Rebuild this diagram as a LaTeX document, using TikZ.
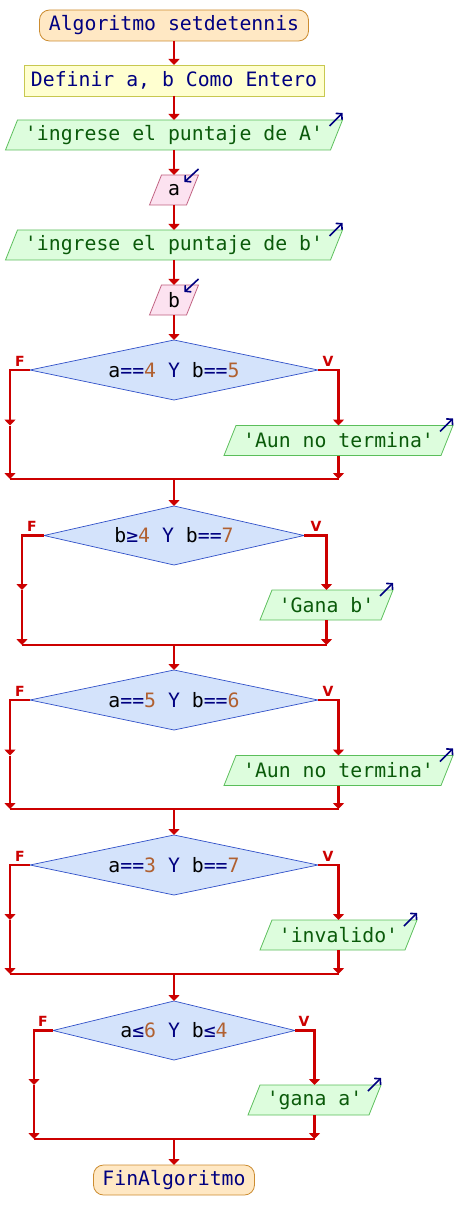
\documentclass[tikz,border=0pt]{standalone}
\usepackage{fontspec}
\newfontfamily\monof{DejaVu Sans Mono}
\newfontfamily\lblf{DejaVu Sans}
\usetikzlibrary{arrows.meta,shapes.geometric,backgrounds}
\definecolor{flowred}{RGB}{204,0,0}
\definecolor{navyc}{RGB}{0,0,128}
\definecolor{numc}{RGB}{176,96,48}
\definecolor{strc}{RGB}{10,90,10}
\definecolor{termfill}{RGB}{255,232,196}
\definecolor{termdraw}{RGB}{204,140,48}
\definecolor{deffill}{RGB}{255,255,208}
\definecolor{defdraw}{RGB}{200,200,80}
\definecolor{outfill}{RGB}{221,253,221}
\definecolor{outdraw}{RGB}{90,190,90}
\definecolor{infill}{RGB}{252,226,240}
\definecolor{indraw}{RGB}{192,96,128}
\definecolor{dfill}{RGB}{212,227,251}
\definecolor{ddraw}{RGB}{48,80,200}
\newcommand\sq{\textquotesingle}
\newcommand\nm[1]{\textcolor{numc}{#1}}
\newcommand\kw[1]{\textcolor{navyc}{#1}}
\newcommand\paral[3]{\filldraw[fill=#2,draw=#3,line width=0.8pt] ([xshift=-6pt]#1.south west) -- ([xshift=6pt]#1.north west) -- ([xshift=6pt]#1.north east) -- ([xshift=-6pt]#1.south east) -- cycle;}
\newcommand\outicon[1]{\draw[icon] ([shift={(-7,6)}]#1.north east) -- ([shift={(6,-7)}]#1.north east);}
\newcommand\inicon[1]{\draw[icon] ([shift={(6,-6)}]#1.north east) -- ([shift={(-8,7)}]#1.north east);}
\tikzset{
  base/.style={font=\monof\fontsize{19.8}{20}\selectfont, inner sep=0pt, outer sep=0pt},
  term/.style={base, draw=termdraw, fill=termfill, rounded corners=10pt, line width=0.8pt, text=navyc, minimum height=31pt},
  defbox/.style={base, draw=defdraw, fill=deffill, line width=0.8pt, text=navyc, minimum height=31pt},
  outbox/.style={base, text=strc, minimum height=30pt},
  inbox/.style={base, text=black, minimum height=30pt, minimum width=37pt},
  cond/.style={base, diamond, aspect=4.8, draw=ddraw, fill=dfill, line width=0.7pt, text=black},
  flow/.style={draw=flowred, line width=2.5pt},
  arr/.style={-{Triangle[width=11pt,length=6pt]}},
  icon/.style={draw=navyc, line width=1.6pt, -{Straight Barb[length=4pt,width=9pt]}},
  lab/.style={text=flowred, font=\lblf\bfseries\fontsize{14}{14}\selectfont, inner sep=0pt}
}
\begin{document}
\begin{tikzpicture}[x=1pt,y=-1pt]
\useasboundingbox (0,0) rectangle (456,1230);
% nodes
\node[term, minimum width=269pt] (start) at (174,25.5) {Algoritmo setdetennis};
\node[defbox, minimum width=300pt] (def) at (174,80.5) {Definir a, b Como Entero};
\node[outbox, minimum width=325pt] (o1) at (174,135) {\sq ingrese el puntaje de A\sq};
\node[inbox] (ia) at (174,190) {a};
\node[outbox, minimum width=325pt] (o2) at (174,245) {\sq ingrese el puntaje de b\sq};
\node[inbox] (ib) at (174,300) {b};
\node[cond, minimum width=288pt, minimum height=60pt] (d1) at (174,370) {a\kw{==}\nm{4} \kw{Y} b\kw{==}\nm{5}};
\node[outbox, minimum width=217pt] (o3) at (338.5,440.5) {\sq Aun no termina\sq};
\node[cond, minimum width=260pt, minimum height=59pt] (d2) at (174,535.5) {b\kw{≥}\nm{4} \kw{Y} b\kw{==}\nm{7}};
\node[outbox, minimum width=121pt] (o4) at (326.5,605) {\sq Gana b\sq};
\node[cond, minimum width=288pt, minimum height=60pt] (d3) at (174,700) {a\kw{==}\nm{5} \kw{Y} b\kw{==}\nm{6}};
\node[outbox, minimum width=217pt] (o5) at (338.5,770.5) {\sq Aun no termina\sq};
\node[cond, minimum width=288pt, minimum height=60pt] (d4) at (174,865) {a\kw{==}\nm{3} \kw{Y} b\kw{==}\nm{7}};
\node[outbox, minimum width=145pt] (o6) at (338.5,935) {\sq invalido\sq};
\node[cond, minimum width=242pt, minimum height=59pt] (d5) at (174,1030.5) {a\kw{≤}\nm{6} \kw{Y} b\kw{≤}\nm{4}};
\node[outbox, minimum width=121pt] (o7) at (314.5,1100) {\sq gana a\sq};
\node[term, minimum width=161pt, minimum height=30pt] (end) at (174,1180) {FinAlgoritmo};
% parallelogram bodies
\begin{scope}[on background layer]
\paral{o1}{outfill}{outdraw}
\paral{o2}{outfill}{outdraw}
\paral{o3}{outfill}{outdraw}
\paral{o4}{outfill}{outdraw}
\paral{o5}{outfill}{outdraw}
\paral{o6}{outfill}{outdraw}
\paral{o7}{outfill}{outdraw}
\paral{ia}{infill}{indraw}
\paral{ib}{infill}{indraw}
\end{scope}
\outicon{o1}\outicon{o2}\outicon{o3}\outicon{o4}\outicon{o5}\outicon{o6}\outicon{o7}
\inicon{ia}\inicon{ib}
% labels
\node[lab] (F1) at (20,361) {F}; \node[lab] (V1) at (328,361) {V};
\node[lab] (F2) at (32,526.5) {F}; \node[lab] (V2) at (316,526.5) {V};
\node[lab] (F3) at (20,691) {F}; \node[lab] (V3) at (328,691) {V};
\node[lab] (F4) at (20,856) {F}; \node[lab] (V4) at (328,856) {V};
\node[lab] (F5) at (43,1021.5) {F}; \node[lab] (V5) at (304,1021.5) {V};
% straight flow
\draw[flow,arr] (start.south) -- (def.north);
\draw[flow,arr] (def.south) -- (o1.north);
\draw[flow,arr] (o1.south) -- (ia.north);
\draw[flow,arr] (ia.south) -- (o2.north);
\draw[flow,arr] (o2.south) -- (ib.north);
\draw[flow,arr] (ib.south) -- (d1.north);
% block 1
\coordinate (f1) at (10,425.5); \coordinate (m1l) at (10,479);
\coordinate (m1r) at (338.5,479); \coordinate (m1) at (174,479);
\draw[flow] (m1l) -- (m1r);
\draw[flow,arr] (d1.west) -| (f1);
\draw[flow,arr] (f1) -- (m1l);
\draw[flow,arr] (d1.east) -| (o3.north);
\draw[flow,arr] (o3.south) -- (m1r);
\draw[flow,arr] (m1) -- (d2.north);
% block 2
\coordinate (f2) at (22,590); \coordinate (m2l) at (22,645);
\coordinate (m2r) at (326.5,645); \coordinate (m2) at (174,645);
\draw[flow] (m2l) -- (m2r);
\draw[flow,arr] (d2.west) -| (f2);
\draw[flow,arr] (f2) -- (m2l);
\draw[flow,arr] (d2.east) -| (o4.north);
\draw[flow,arr] (o4.south) -- (m2r);
\draw[flow,arr] (m2) -- (d3.north);
% block 3
\coordinate (f3) at (10,755.5); \coordinate (m3l) at (10,809);
\coordinate (m3r) at (338.5,809); \coordinate (m3) at (174,809);
\draw[flow] (m3l) -- (m3r);
\draw[flow,arr] (d3.west) -| (f3);
\draw[flow,arr] (f3) -- (m3l);
\draw[flow,arr] (d3.east) -| (o5.north);
\draw[flow,arr] (o5.south) -- (m3r);
\draw[flow,arr] (m3) -- (d4.north);
% block 4
\coordinate (f4) at (10,920); \coordinate (m4l) at (10,974);
\coordinate (m4r) at (338.5,974); \coordinate (m4) at (174,974);
\draw[flow] (m4l) -- (m4r);
\draw[flow,arr] (d4.west) -| (f4);
\draw[flow,arr] (f4) -- (m4l);
\draw[flow,arr] (d4.east) -| (o6.north);
\draw[flow,arr] (o6.south) -- (m4r);
\draw[flow,arr] (m4) -- (d5.north);
% block 5
\coordinate (f5) at (34,1085); \coordinate (m5l) at (34,1139);
\coordinate (m5r) at (314.5,1139); \coordinate (m5) at (174,1139);
\draw[flow] (m5l) -- (m5r);
\draw[flow,arr] (d5.west) -| (f5);
\draw[flow,arr] (f5) -- (m5l);
\draw[flow,arr] (d5.east) -| (o7.north);
\draw[flow,arr] (o7.south) -- (m5r);
\draw[flow,arr] (m5) -- (end.north);
\end{tikzpicture}
\end{document}
